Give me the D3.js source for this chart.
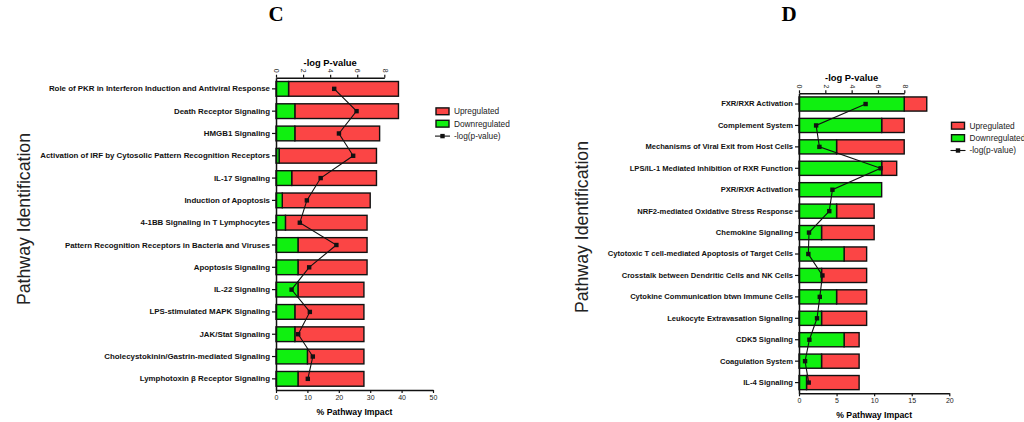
<!DOCTYPE html>
<html>
<head>
<meta charset="utf-8">
<script src="https://cdn.jsdelivr.net/npm/d3@7"></script>
<style>
  body { margin: 0; background: #fff; }
  svg { display: block; font-family: Arial, "Liberation Sans", sans-serif; }
</style>
</head>
<body>
<svg width="1024" height="422"></svg>
<script>
// panel C
const pathwaysC = [
  "Role of PKR in Interferon Induction and Antiviral Response",
  "Death Receptor Signaling",
  "HMGB1 Signaling",
  "Activation of IRF by Cytosolic Pattern Recognition Receptors",
  "IL-17 Signaling",
  "Induction of Apoptosis",
  "4-1BB Signaling in T Lymphocytes",
  "Pattern Recognition Receptors in Bacteria and Viruses",
  "Apoptosis Signaling",
  "IL-22 Signaling",
  "LPS-stimulated MAPK Signaling",
  "JAK/Stat Signaling",
  "Cholecystokinin/Gastrin-mediated Signaling",
  "Lymphotoxin \u03b2 Receptor Signaling"
];
const downC  = [4, 6, 6, 1, 5, 2, 3, 7, 7, 7, 6, 6, 10, 7];
const totalC = [39, 39, 33, 32, 32, 30, 29, 29, 29, 28, 28, 28, 28, 28];
const logpC  = [4.3, 5.95, 4.65, 5.7, 3.3, 2.28, 1.76, 4.46, 2.45, 1.15, 2.5, 1.64, 2.72, 2.35];

// panel D
const pathwaysD = [
  "FXR/RXR Activation",
  "Complement System",
  "Mechanisms of Viral Exit from Host Cells",
  "LPS/IL-1 Mediated Inhibition of RXR Function",
  "PXR/RXR Activation",
  "NRF2-mediated Oxidative Stress Response",
  "Chemokine Signaling",
  "Cytotoxic T cell-mediated Apoptosis of Target Cells",
  "Crosstalk between Dendritic Cells and NK Cells",
  "Cytokine Communication btwn Immune Cells",
  "Leukocyte Extravasation Signaling",
  "CDK5 Signaling",
  "Coagulation System",
  "IL-4 Signaling"
];
const downD  = [14, 11, 5, 11, 11, 5, 3, 6, 3, 5, 3, 6, 3, 1];
const totalD = [17, 14, 14, 13, 11, 10, 10, 9, 9, 9, 9, 8, 8, 8];
const logpD  = [5.06, 1.3, 1.55, 6.2, 2.54, 2.3, 0.76, 0.71, 1.78, 1.58, 1.37, 0.79, 0.46, 0.74];

const impactTicksC = [0, 10, 20, 30, 40, 50];
const impactTicksD = [0, 5, 10, 15, 20];
const logpTicks = [0, 2, 4, 6, 8];
const legendLabels = ["Upregulated", "Downregulated", "-log(p-value)"];

const RED = "#fb4545", GREEN = "#10f010";
const svg = d3.select("svg");

function drawPanel(opt) {
  const data = opt.names.map((name, i) => ({
    name: name, down: opt.down[i], total: opt.total[i], logp: opt.logp[i]
  }));

  const x = d3.scaleLinear().domain([0, opt.xMax]).range([opt.left, opt.left + opt.width]);
  const xp = d3.scaleLinear().domain([0, 8]).range([opt.left, opt.left + opt.pWidth]);
  const y = d3.scaleBand().domain(opt.names).range([opt.top, opt.bottom])
    .paddingInner(0.34).paddingOuter(0.17);

  const g = svg.append("g");

  // panel letter
  g.append("text")
    .attr("x", opt.letterX).attr("y", 21)
    .attr("text-anchor", "middle")
    .style("font-family", "'Liberation Serif', 'Times New Roman', serif")
    .style("font-weight", "bold").style("font-size", "21px")
    .text(opt.letter);

  // bars: downregulated part then upregulated part
  const rows = g.selectAll("g.row").data(data).enter().append("g").attr("class", "row");
  rows.append("rect")
    .attr("x", d => x(d.down)).attr("y", d => y(d.name))
    .attr("width", d => x(d.total) - x(d.down)).attr("height", y.bandwidth())
    .attr("fill", RED).attr("stroke", "#111").attr("stroke-width", 1.4);
  rows.append("rect")
    .attr("x", x(0)).attr("y", d => y(d.name))
    .attr("width", d => x(d.down) - x(0)).attr("height", y.bandwidth())
    .attr("fill", GREEN).attr("stroke", "#111").attr("stroke-width", 1.4);

  // axes
  const bottomAxis = g.append("g")
    .attr("transform", `translate(0,${opt.bottom})`)
    .call(d3.axisBottom(x).tickValues(opt.xTicks).tickSize(3).tickSizeOuter(0).tickPadding(2));
  bottomAxis.selectAll("text").style("font-size", "7px").attr("fill", "#222");

  const topAxis = g.append("g")
    .attr("transform", `translate(0,${opt.top})`)
    .call(d3.axisTop(xp).tickValues(logpTicks).tickSize(3).tickSizeOuter(0).tickPadding(2));
  topAxis.selectAll("text")
    .style("font-size", "7px").attr("fill", "#222")
    .attr("transform", "rotate(90)")
    .attr("text-anchor", "end").attr("dy", "0.32em").attr("x", -5).attr("y", 0);

  const leftAxis = g.append("g")
    .attr("transform", `translate(${opt.left},0)`)
    .call(d3.axisLeft(y).tickSize(4).tickSizeOuter(0).tickPadding(2));
  leftAxis.selectAll("text")
    .style("font-size", opt.labelSize + "px").style("font-weight", "bold").attr("fill", "#111");

  [bottomAxis, topAxis, leftAxis].forEach(a => {
    a.select(".domain").attr("stroke", "#111").attr("stroke-width", 1.5);
    a.selectAll(".tick line").attr("stroke", "#111").attr("stroke-width", 1.2);
  });

  // axis titles
  g.append("text")
    .attr("x", (x(0) + x(opt.xMax)) / 2).attr("y", opt.bottom + 25)
    .attr("text-anchor", "middle")
    .style("font-size", "8.7px").style("font-weight", "bold")
    .text("% Pathway Impact");
  g.append("text")
    .attr("x", (xp(0) + xp(8)) / 2).attr("y", opt.top - 12)
    .attr("text-anchor", "middle")
    .style("font-size", "9.4px").style("font-weight", "bold")
    .text("-log P-value");
  g.append("text")
    .attr("transform", `translate(${opt.yTitleX},${opt.yTitleY}) rotate(-90)`)
    .attr("text-anchor", "middle")
    .style("font-size", "17.7px").attr("fill", "#222")
    .text("Pathway Identification");

  // -log(p) line
  const line = d3.line().x(d => xp(d.logp)).y(d => y(d.name) + y.bandwidth() / 2);
  g.append("path").datum(data)
    .attr("d", line).attr("fill", "none").attr("stroke", "#111").attr("stroke-width", 1.1);
  g.selectAll("rect.pt").data(data).enter().append("rect")
    .attr("class", "pt")
    .attr("x", d => xp(d.logp) - 2.2).attr("y", d => y(d.name) + y.bandwidth() / 2 - 2.2)
    .attr("width", 4.4).attr("height", 4.4).attr("fill", "#111");

  // legend
  const lg = g.append("g").attr("transform", `translate(${opt.legendX},${opt.legendY})`);
  legendLabels.forEach((label, i) => {
    const row = lg.append("g").attr("transform", `translate(0,${i * 12.4})`);
    if (i < 2) {
      row.append("rect").attr("x", 1).attr("y", -3.4).attr("width", 13).attr("height", 6.8)
        .attr("fill", i === 0 ? RED : GREEN).attr("stroke", "#111").attr("stroke-width", 1.4);
    } else {
      row.append("line").attr("x1", 0).attr("x2", 15).attr("y1", 0).attr("y2", 0)
        .attr("stroke", "#111").attr("stroke-width", 1.1);
      row.append("rect").attr("x", 5.3).attr("y", -2.2).attr("width", 4.4).attr("height", 4.4)
        .attr("fill", "#111");
    }
    row.append("text").attr("x", 19).attr("y", 0).attr("dy", "0.35em")
      .style("font-size", "8.3px").attr("fill", "#222").text(label);
  });
}

drawPanel({
  letter: "C", letterX: 276,
  names: pathwaysC, down: downC, total: totalC, logp: logpC,
  xMax: 50, xTicks: impactTicksC, labelSize: 7.9,
  left: 276, width: 157, pWidth: 108.3, top: 77.7, bottom: 390,
  yTitleX: 30, yTitleY: 219,
  legendX: 435, legendY: 111.3
});

drawPanel({
  letter: "D", letterX: 789,
  names: pathwaysD, down: downD, total: totalD, logp: logpD,
  xMax: 20, xTicks: impactTicksD, labelSize: 7.6,
  left: 799, width: 150.3, pWidth: 105.3, top: 93.3, bottom: 393.3,
  yTitleX: 588, yTitleY: 227,
  legendX: 950.5, legendY: 125.7
});
</script>
</body>
</html>
